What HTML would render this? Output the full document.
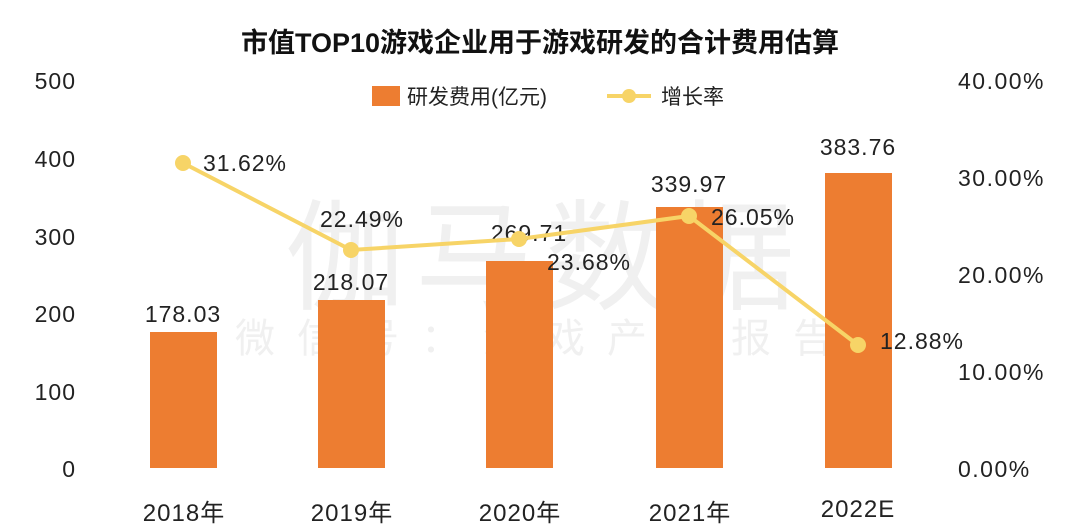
<!DOCTYPE html>
<html><head><meta charset="utf-8"><style>
body{margin:0;background:#fff;}
svg{display:block;font-family:"Liberation Sans","Noto Sans CJK SC",sans-serif;}
</style></head><body>
<svg width="1080" height="529" viewBox="0 0 1080 529">
<rect width="1080" height="529" fill="#fff"/>
<text x="540" y="52" text-anchor="middle" font-size="27" font-weight="bold" fill="#111">市值TOP10游戏企业用于游戏研发的合计费用估算</text>
<!-- watermark -->
<text x="545" y="300" text-anchor="middle" font-size="120" fill="#f0f0f0" letter-spacing="10">伽马数据</text>
<text x="545" y="352" text-anchor="middle" font-size="40" fill="#f0f0f0" letter-spacing="22">微信号：游戏产业报告</text>
<!-- left axis -->
<g font-size="23" fill="#222" text-anchor="end" letter-spacing="1">
<text x="76" y="89">500</text><text x="76" y="167">400</text><text x="76" y="245">300</text>
<text x="76" y="322">200</text><text x="76" y="400">100</text><text x="76" y="477">0</text>
</g>
<g font-size="23" fill="#222" letter-spacing="1.5">
<text x="958" y="89">40.00%</text><text x="958" y="186">30.00%</text><text x="958" y="283">20.00%</text>
<text x="958" y="380">10.00%</text><text x="958" y="477">0.00%</text>
</g>
<!-- legend -->
<rect x="372" y="86" width="28" height="20" fill="#ed7d31"/>
<text x="407" y="104" font-size="21" fill="#222">研发费用(亿元)</text>
<line x1="607" y1="96" x2="651" y2="96" stroke="#f7d467" stroke-width="4"/>
<circle cx="629" cy="96" r="7" fill="#f7d467"/>
<text x="661" y="104" font-size="21" fill="#222">增长率</text>
<!-- bars -->
<g fill="#ed7d31">
<rect x="150" y="332" width="67" height="136"/>
<rect x="318" y="300" width="67" height="168"/>
<rect x="486" y="261" width="67" height="207"/>
<rect x="656" y="207" width="67" height="261"/>
<rect x="825" y="173" width="67" height="295"/>
</g>
<g font-size="23" fill="#222" text-anchor="middle" letter-spacing="1">
<text x="183" y="322">178.03</text>
<text x="351" y="290">218.07</text>
<text x="529" y="241">269.71</text>
<text x="689" y="192">339.97</text>
<text x="858" y="155">383.76</text>
</g>
<!-- line -->
<polyline points="183,163 351,250 519,239 689,216 858,345" fill="none" stroke="#f7d467" stroke-width="4"/>
<g fill="#f7d467">
<circle cx="183" cy="163" r="8"/><circle cx="351" cy="250" r="8"/><circle cx="519" cy="239" r="8"/>
<circle cx="689" cy="216" r="8"/><circle cx="858" cy="345" r="8"/>
</g>
<g font-size="23" fill="#222" letter-spacing="1">
<text x="203" y="171">31.62%</text>
<text x="320" y="227">22.49%</text>
<text x="547" y="270">23.68%</text>
<text x="711" y="225">26.05%</text>
<text x="880" y="349">12.88%</text>
</g>
<g font-size="24" fill="#222" text-anchor="middle" letter-spacing="1">
<text x="184" y="521">2018年</text><text x="352" y="521">2019年</text><text x="520" y="521">2020年</text>
<text x="690" y="521">2021年</text><text x="858" y="517">2022E</text>
</g>
</svg>
</body></html>
